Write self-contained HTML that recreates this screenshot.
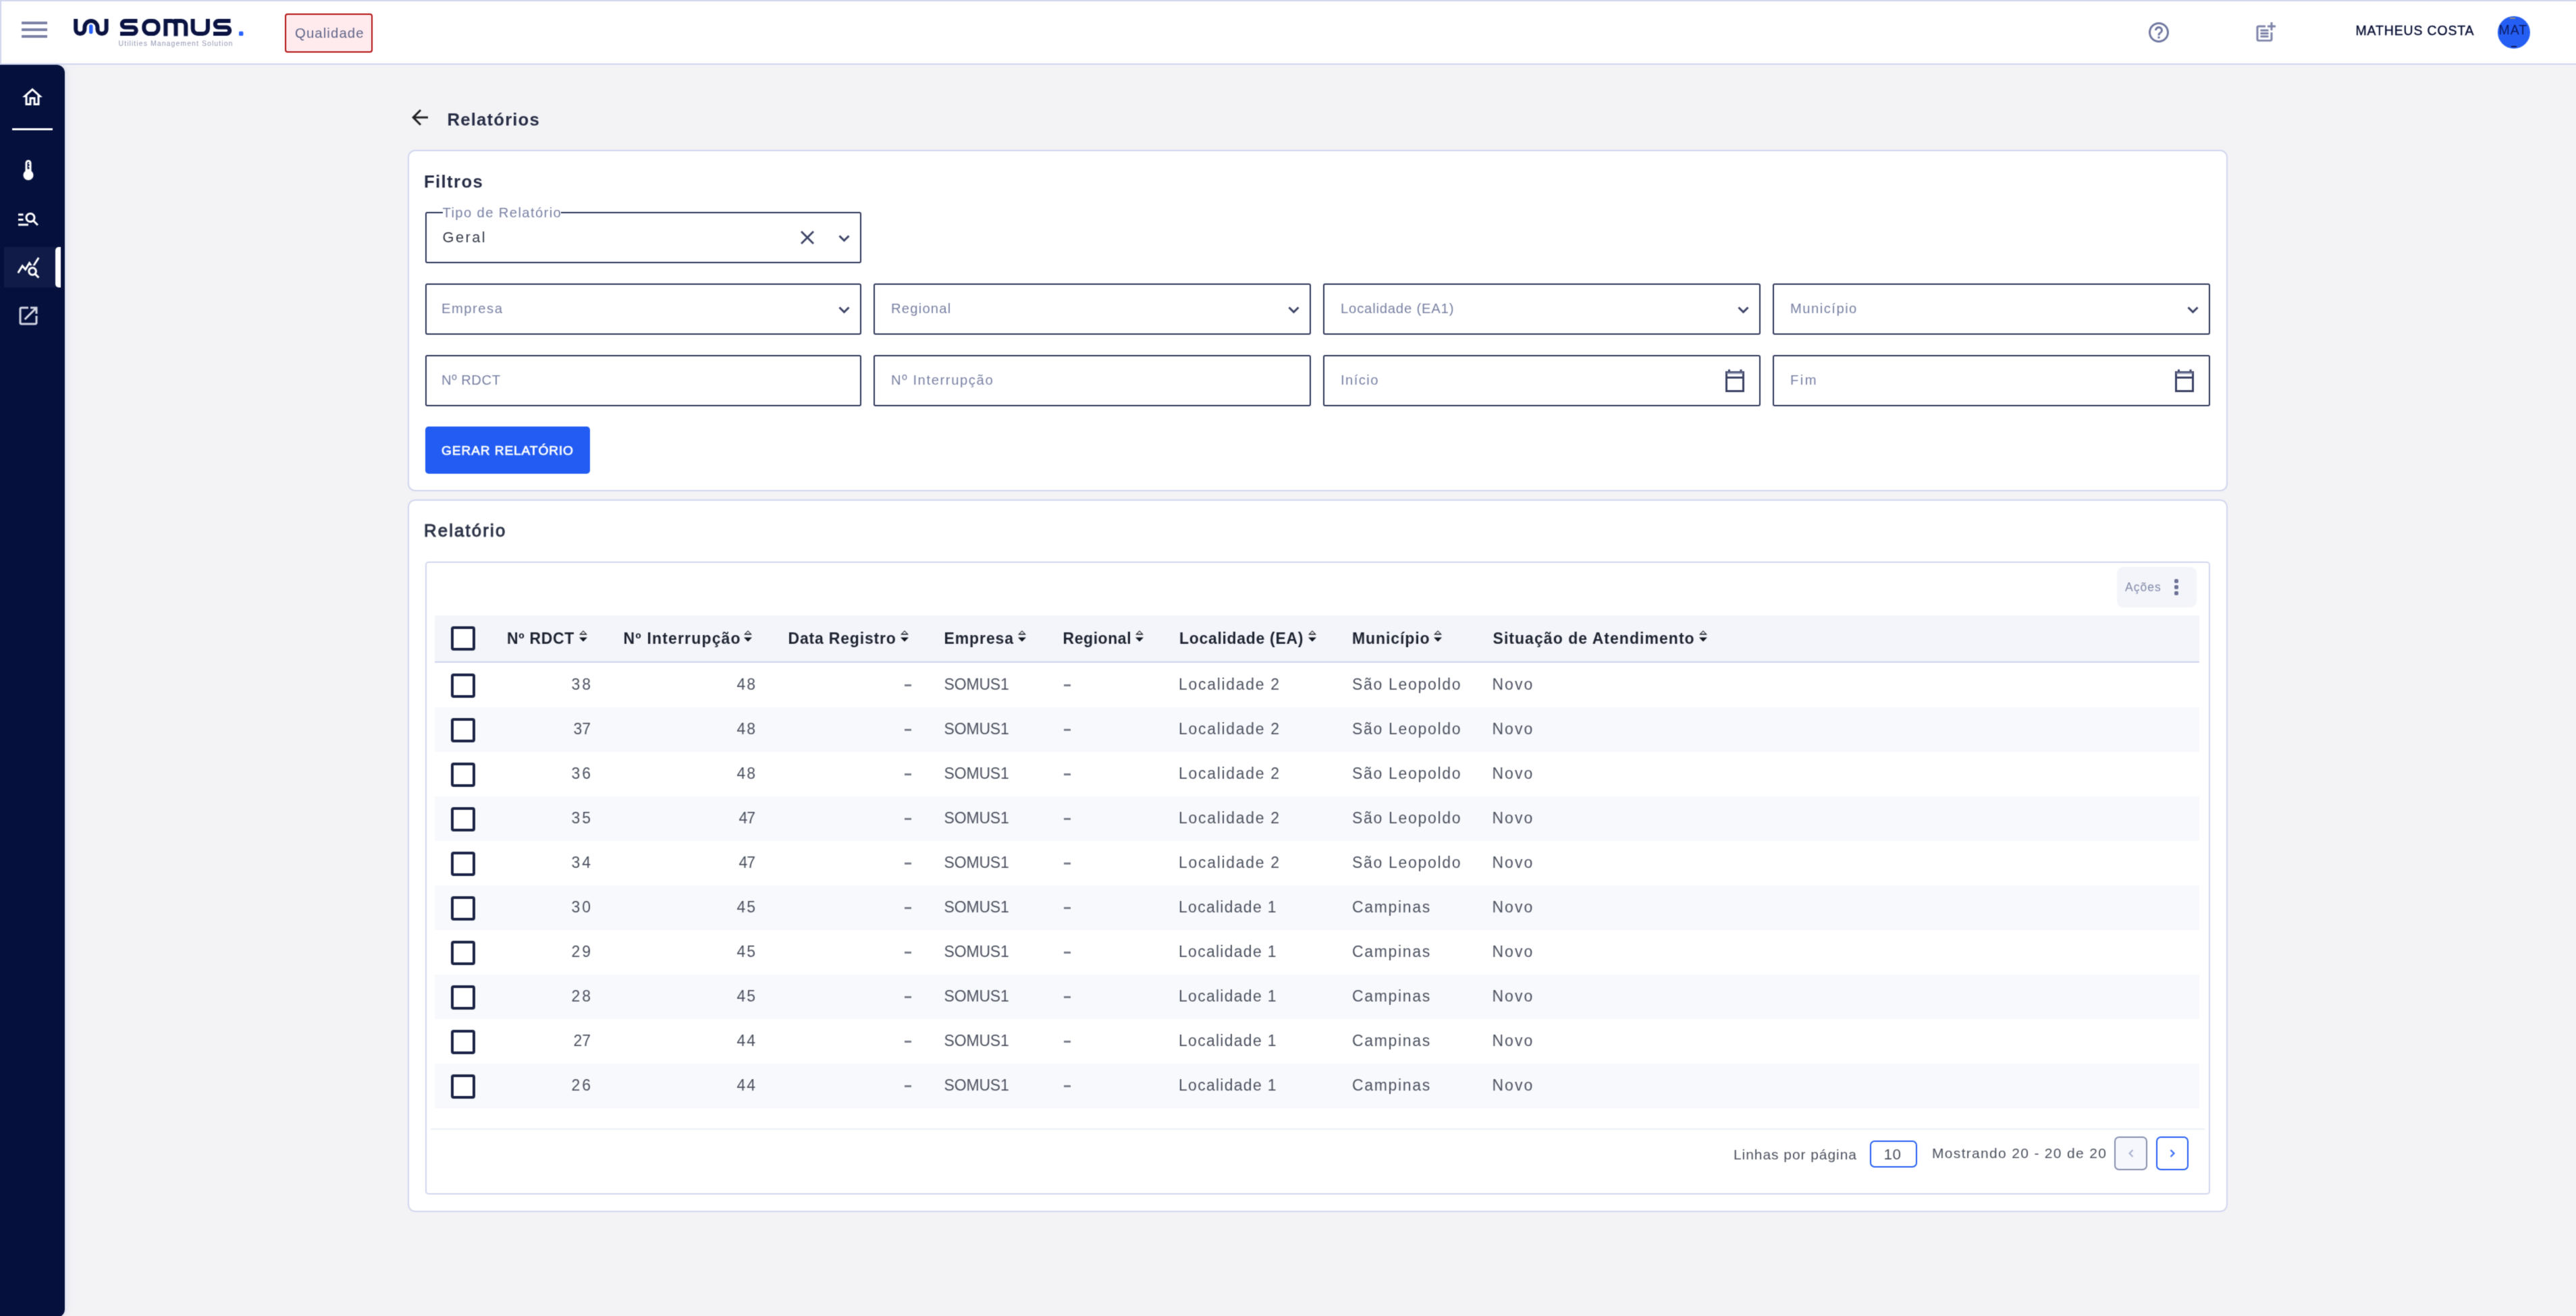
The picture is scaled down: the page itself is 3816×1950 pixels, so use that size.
<!DOCTYPE html>
<html lang="pt-BR">
<head>
<meta charset="utf-8">
<title>Relatórios</title>
<style>
*{box-sizing:border-box;margin:0;padding:0}
html,body{width:3816px;height:1950px;overflow:hidden}
body{position:relative;background:#f3f3f6;font-family:"Liberation Sans",sans-serif;color:#1a2347}
#page{position:absolute;left:0;top:0;width:3816px;height:1950px;overflow:hidden;background:#f3f3f6;filter:url(#soft)}
.abs{position:absolute}
.t{position:absolute;white-space:nowrap}
.topbar{position:absolute;left:0;top:0;width:3816px;height:96px;background:#fff;border-top:2px solid #d1d6ee;border-left:2px solid #d1d6ee;border-bottom:2px solid #d0d5ee}
.side{position:absolute;left:0;top:96px;width:96px;height:1856px;background:#05103d;border-radius:0 12px 12px 0;box-shadow:3px 0 9px rgba(200,205,228,.45)}
.card{position:absolute;background:#fff;border:2px solid #d1d6ee;border-radius:11px}
.inbox{position:absolute;height:76px;border:2px solid #2d3559;border-radius:3px;background:#fff}
.cb{position:absolute;left:668px;width:36px;height:36px;border:4px solid #1b2444;border-radius:4px;background:#fff}
.row{position:absolute;left:644px;width:2614px;height:66px}
.alt{background:#f8f9fc}
svg{position:absolute;overflow:visible}
</style>
</head>
<body>
<svg width="0" height="0" style="position:absolute"><filter id="soft" x="0" y="0" width="100%" height="100%" color-interpolation-filters="sRGB"><feConvolveMatrix order="3" kernelMatrix="1 4 1 4 16 4 1 4 1" divisor="36" edgeMode="duplicate" preserveAlpha="true"/></filter></svg>
<div id="page">
<div class="topbar"></div>
<div class="abs" style="left:32px;top:32px;width:38px;height:4px;background:#7c82a6"></div>
<div class="abs" style="left:32px;top:42px;width:38px;height:4px;background:#7c82a6"></div>
<div class="abs" style="left:32px;top:52px;width:38px;height:4px;background:#7c82a6"></div>
<svg style="left:100px;top:20px" width="280" height="60" viewBox="100 20 280 60">
<g fill="none" stroke="#0a1342" stroke-width="6">
<path d="M112.2 28 V43.5 a6.6 6.6 0 0 0 13.2 0 V40.5 a9.5 9.5 0 0 1 19 0 V43.5 a6.6 6.6 0 0 0 13.2 0 V28"/>
<path d="M203.5 31 H185.5 a4.75 4.75 0 0 0 0 9.5 H197 a4.75 4.75 0 0 1 0 9.5 H178"/>
<rect x="213.3" y="31" width="21.2" height="19" rx="8.5"/>
<path d="M245.4 53.6 V31 H254 a6.5 6.5 0 0 1 6.5 6.5 V53.6 M260.5 37.5 V31 H268.8 a6.5 6.5 0 0 1 6.5 6.5 V53.6"/>
<path d="M285.6 28 V42.5 a7.5 7.5 0 0 0 7.5 7.5 H300.4 a7.5 7.5 0 0 0 7.5 -7.5 V28"/>
<path d="M341.5 31 H323.5 a4.75 4.75 0 0 0 0 9.5 H335.5 a4.75 4.75 0 0 1 0 9.5 H316"/>
</g>
<path d="M134.8 39 V47.5" stroke="#2962ff" stroke-width="5.5" stroke-linecap="round" fill="none"/>
<rect x="354" y="46.5" width="6.4" height="6.6" rx="1.5" fill="#2962ff"/>
</svg>
<div class="abs" style="left:422px;top:20px;width:130px;height:58px;border:2px solid #b30f0f;border-radius:4px;background:#ffebee"></div>
<svg style="left:3180px;top:30px" width="36" height="36" viewBox="0 0 24 24" fill="#7077a0"><path d="M11 18h2v-2h-2v2zm1-16C6.48 2 2 6.48 2 12s4.48 10 10 10 10-4.48 10-10S17.52 2 12 2zm0 18c-4.41 0-8-3.59-8-8s3.590-8 8-8 8 3.590 8 8-3.590 8-8 8zm0-14c-2.21 0-4 1.790-4 4h2c0-1.100.9-2 2-2s2 .9 2 2c0 2-3 1.750-3 5h2c0-2.250 3-2.500 3-5 0-2.210-1.790-4-4-4z"/></svg>
<svg style="left:3338px;top:30px" width="36" height="36" viewBox="0 0 24 24" fill="#7d83a8"><path d="M17 19.220H5V7h7V5H5c-1.100 0-2 .9-2 2v12c0 1.100.9 2 2 2h12c1.100 0 2-.9 2-2v-7h-2v7.220z"/><path d="M19 2h-2v3h-3c.010.010 0 2 0 2h3v2.990c.010.010 2 0 2 0V7h3V5h-3V2zM7 9h8v2H7zM7 12v2h8v-2h-3zM7 15h8v2H7z"/></svg>
<div class="abs" style="left:3700px;top:24px;width:48px;height:48px;border-radius:50%;background:#245ef3"></div>
<div class="abs" style="left:3718px;top:26px;width:8px;height:2px;background:#8d8a7a"></div>
<div class="abs" style="left:3720px;top:68px;width:8px;height:2px;background:#0d1c5c"></div>
<div class="side"></div>
<svg style="left:30px;top:126px" width="36" height="36" viewBox="0 0 24 24" fill="#fff"><path d="M12 5.690l5 4.500V18h-2v-6H9v6H7v-7.810l5-4.500M12 3L2 12h3v8h6v-6h2v6h6v-8h3L12 3z"/></svg>
<div class="abs" style="left:18px;top:189.500px;width:60px;height:3px;background:#fff"></div>
<svg style="left:24px;top:234px" width="36" height="36" viewBox="0 0 24 24" fill="#fff"><path d="M15 13V5c0-1.660-1.340-3-3-3S9 3.340 9 5v8c-1.210.910-2 2.370-2 4 0 2.760 2.240 5 5 5s5-2.240 5-5c0-1.630-.790-3.090-2-4zm-4-8c0-.550.450-1 1-1s1 .450 1 1h-1v1h1v2h-1v1h1v2h-2V5z"/></svg>
<svg style="left:24px;top:306px" width="36" height="36" viewBox="0 0 24 24" fill="#fff"><path d="M7 9H2V7h5v2zm0 3H2v2h5v-2zm13.590 7l-3.830-3.830c-.8.520-1.740.830-2.760.830-2.760 0-5-2.240-5-5s2.240-5 5-5 5 2.240 5 5c0 1.020-.310 1.960-.830 2.750L22 17.590 20.590 19zM17 11c0-1.650-1.350-3-3-3s-3 1.350-3 3 1.350 3 3 3 3-1.350 3-3zM2 19h10v-2H2v2z"/></svg>
<div class="abs" style="left:6px;top:366px;width:76px;height:60px;background:#101b47"></div>
<div class="abs" style="left:82px;top:366px;width:8px;height:60px;background:#fff;border-radius:5px 0 0 5px"></div>
<svg style="left:24px;top:378px" width="36" height="36" viewBox="0 0 24 24" fill="#fff"><path d="M19.880 18.470c.440-.7.7-1.510.7-2.390 0-2.490-2.010-4.500-4.500-4.500s-4.500 2.010-4.500 4.500 2.010 4.500 4.490 4.500c.880 0 1.700-.260 2.390-.7L21.580 23 23 21.580l-3.120-3.110zm-3.800.110c-1.380 0-2.500-1.120-2.500-2.500s1.120-2.500 2.500-2.500 2.500 1.120 2.500 2.500-1.120 2.500-2.500 2.500zm-.360-8.500c-.740.020-1.450.180-2.100.450l-.550-.830-3.800 6.180-3.010-3.520-3.630 5.810L1 17l5-8 3 3.500L13 6l2.720 4.080zm2.590.5c-.640-.280-1.330-.450-2.050-.490L21.380 2 23 3.180l-4.690 7.400z"/></svg>
<svg style="left:24px;top:450px" width="36" height="36" viewBox="0 0 24 24" fill="#d3d6e2"><path d="M19 19H5V5h7V3H5c-1.110 0-2 .9-2 2v14c0 1.100.890 2 2 2h14c1.100 0 2-.9 2-2v-7h-2v7zM14 3v2h3.590l-9.830 9.830 1.410 1.410L19 6.410V10h2V3h-7z"/></svg>
<svg style="left:604px;top:156px" width="36" height="36" viewBox="0 0 24 24" fill="#222"><path d="M20 11H7.830l5.590-5.590L12 4l-8 8 8 8 1.410-1.410L7.830 13H20v-2z"/></svg>
<div class="card" style="left:604px;top:222px;width:2696px;height:506px"></div>
<div class="inbox" style="left:630px;top:314px;width:646px"></div>
<div class="abs" style="left:655.500px;top:312px;width:175px;height:6px;background:#fff"></div>
<svg style="left:1186px;top:342px" width="20" height="20" viewBox="0 0 20 20"><path d="M1 1L19 19M19 1L1 19" fill="none" stroke="#3b4264" stroke-width="2.800"/></svg>
<svg style="left:1241.5px;top:347.5px" width="17" height="11" viewBox="0 0 17 11"><path d="M1.500 1.500 L8.500 8.500 L15.500 1.500" fill="none" stroke="#3b4264" stroke-width="3"/></svg>
<div class="inbox" style="left:630px;top:420px;width:646px"></div>
<div class="inbox" style="left:630px;top:526px;width:646px"></div>
<svg style="left:1241.5px;top:453.5px" width="17" height="11" viewBox="0 0 17 11"><path d="M1.500 1.500 L8.500 8.500 L15.500 1.500" fill="none" stroke="#3b4264" stroke-width="3"/></svg>
<div class="inbox" style="left:1294px;top:420px;width:648px"></div>
<div class="inbox" style="left:1294px;top:526px;width:648px"></div>
<svg style="left:1907.5px;top:453.5px" width="17" height="11" viewBox="0 0 17 11"><path d="M1.500 1.500 L8.500 8.500 L15.500 1.500" fill="none" stroke="#3b4264" stroke-width="3"/></svg>
<div class="inbox" style="left:1960px;top:420px;width:648px"></div>
<div class="inbox" style="left:1960px;top:526px;width:648px"></div>
<svg style="left:2573.5px;top:453.5px" width="17" height="11" viewBox="0 0 17 11"><path d="M1.500 1.500 L8.500 8.500 L15.500 1.500" fill="none" stroke="#3b4264" stroke-width="3"/></svg>
<svg style="left:2555px;top:547px" width="30" height="34" viewBox="0 0 30 34"><g fill="none" stroke="#3b4264" stroke-width="3"><rect x="2.500" y="4.500" width="25" height="28"/><path d="M2.500 12.500H27.500"/><path d="M6.500 0.500V5M24 0.500V5"/></g><rect x="2.500" y="3.500" width="25" height="4" fill="#7f86a5" opacity=".55"/></svg>
<div class="inbox" style="left:2626px;top:420px;width:648px"></div>
<div class="inbox" style="left:2626px;top:526px;width:648px"></div>
<svg style="left:3239.5px;top:453.5px" width="17" height="11" viewBox="0 0 17 11"><path d="M1.500 1.500 L8.500 8.500 L15.500 1.500" fill="none" stroke="#3b4264" stroke-width="3"/></svg>
<svg style="left:3221px;top:547px" width="30" height="34" viewBox="0 0 30 34"><g fill="none" stroke="#3b4264" stroke-width="3"><rect x="2.500" y="4.500" width="25" height="28"/><path d="M2.500 12.500H27.500"/><path d="M6.500 0.500V5M24 0.500V5"/></g><rect x="2.500" y="3.500" width="25" height="4" fill="#7f86a5" opacity=".55"/></svg>
<div class="abs" style="left:630px;top:632px;width:244px;height:70px;background:#225cf2;border-radius:5px"></div>
<div class="card" style="left:604px;top:740px;width:2696px;height:1056px"></div>
<div class="abs" style="left:630px;top:832px;width:2644px;height:938px;border:2px solid #d1d6ee;border-radius:5px;background:#fff"></div>
<div class="abs" style="left:3136px;top:840px;width:118px;height:60px;background:#f4f5fa;border-radius:9px"></div>
<div class="abs" style="left:3221px;top:858px;width:6px;height:6px;border-radius:2px;background:#6c7297"></div>
<div class="abs" style="left:3221px;top:867px;width:6px;height:6px;border-radius:2px;background:#6c7297"></div>
<div class="abs" style="left:3221px;top:876px;width:6px;height:6px;border-radius:2px;background:#6c7297"></div>
<div class="row" style="top:912px;height:68px;background:#f4f5fa"></div>
<div class="abs" style="left:644px;top:980px;width:2614px;height:2px;background:#ced3f0"></div>
<div class="cb" style="top:928px"></div>
<svg style="left:858px;top:933.500px" width="12" height="17" viewBox="0 0 12 17"><path d="M0 6.500H12L6 0.300Z M2.800 5H9.200L6 1.800Z" fill="#10161f" fill-rule="evenodd"/><path d="M0 10.500H12L6 16.700Z" fill="#10161f"/></svg>
<svg style="left:1102px;top:933.500px" width="12" height="17" viewBox="0 0 12 17"><path d="M0 6.500H12L6 0.300Z M2.800 5H9.200L6 1.800Z" fill="#10161f" fill-rule="evenodd"/><path d="M0 10.500H12L6 16.700Z" fill="#10161f"/></svg>
<svg style="left:1334px;top:933.500px" width="12" height="17" viewBox="0 0 12 17"><path d="M0 6.500H12L6 0.300Z M2.800 5H9.200L6 1.800Z" fill="#10161f" fill-rule="evenodd"/><path d="M0 10.500H12L6 16.700Z" fill="#10161f"/></svg>
<svg style="left:1508px;top:933.500px" width="12" height="17" viewBox="0 0 12 17"><path d="M0 6.500H12L6 0.300Z M2.800 5H9.200L6 1.800Z" fill="#10161f" fill-rule="evenodd"/><path d="M0 10.500H12L6 16.700Z" fill="#10161f"/></svg>
<svg style="left:1682px;top:933.500px" width="12" height="17" viewBox="0 0 12 17"><path d="M0 6.500H12L6 0.300Z M2.800 5H9.200L6 1.800Z" fill="#10161f" fill-rule="evenodd"/><path d="M0 10.500H12L6 16.700Z" fill="#10161f"/></svg>
<svg style="left:1937.5px;top:933.500px" width="12" height="17" viewBox="0 0 12 17"><path d="M0 6.500H12L6 0.300Z M2.800 5H9.200L6 1.800Z" fill="#10161f" fill-rule="evenodd"/><path d="M0 10.500H12L6 16.700Z" fill="#10161f"/></svg>
<svg style="left:2124px;top:933.500px" width="12" height="17" viewBox="0 0 12 17"><path d="M0 6.500H12L6 0.300Z M2.800 5H9.200L6 1.800Z" fill="#10161f" fill-rule="evenodd"/><path d="M0 10.500H12L6 16.700Z" fill="#10161f"/></svg>
<svg style="left:2516.5px;top:933.500px" width="12" height="17" viewBox="0 0 12 17"><path d="M0 6.500H12L6 0.300Z M2.800 5H9.200L6 1.800Z" fill="#10161f" fill-rule="evenodd"/><path d="M0 10.500H12L6 16.700Z" fill="#10161f"/></svg>
<div class="row" style="top:982px"></div>
<div class="cb" style="top:998px"></div>
<div class="abs" style="left:1340px;top:1014px;width:10px;height:3px;background:#7c818d"></div>
<div class="abs" style="left:1576px;top:1014px;width:10px;height:3px;background:#7c818d"></div>
<div class="row alt" style="top:1048px"></div>
<div class="cb" style="top:1064px"></div>
<div class="abs" style="left:1340px;top:1080px;width:10px;height:3px;background:#7c818d"></div>
<div class="abs" style="left:1576px;top:1080px;width:10px;height:3px;background:#7c818d"></div>
<div class="row" style="top:1114px"></div>
<div class="cb" style="top:1130px"></div>
<div class="abs" style="left:1340px;top:1146px;width:10px;height:3px;background:#7c818d"></div>
<div class="abs" style="left:1576px;top:1146px;width:10px;height:3px;background:#7c818d"></div>
<div class="row alt" style="top:1180px"></div>
<div class="cb" style="top:1196px"></div>
<div class="abs" style="left:1340px;top:1212px;width:10px;height:3px;background:#7c818d"></div>
<div class="abs" style="left:1576px;top:1212px;width:10px;height:3px;background:#7c818d"></div>
<div class="row" style="top:1246px"></div>
<div class="cb" style="top:1262px"></div>
<div class="abs" style="left:1340px;top:1278px;width:10px;height:3px;background:#7c818d"></div>
<div class="abs" style="left:1576px;top:1278px;width:10px;height:3px;background:#7c818d"></div>
<div class="row alt" style="top:1312px"></div>
<div class="cb" style="top:1328px"></div>
<div class="abs" style="left:1340px;top:1344px;width:10px;height:3px;background:#7c818d"></div>
<div class="abs" style="left:1576px;top:1344px;width:10px;height:3px;background:#7c818d"></div>
<div class="row" style="top:1378px"></div>
<div class="cb" style="top:1394px"></div>
<div class="abs" style="left:1340px;top:1410px;width:10px;height:3px;background:#7c818d"></div>
<div class="abs" style="left:1576px;top:1410px;width:10px;height:3px;background:#7c818d"></div>
<div class="row alt" style="top:1444px"></div>
<div class="cb" style="top:1460px"></div>
<div class="abs" style="left:1340px;top:1476px;width:10px;height:3px;background:#7c818d"></div>
<div class="abs" style="left:1576px;top:1476px;width:10px;height:3px;background:#7c818d"></div>
<div class="row" style="top:1510px"></div>
<div class="cb" style="top:1526px"></div>
<div class="abs" style="left:1340px;top:1542px;width:10px;height:3px;background:#7c818d"></div>
<div class="abs" style="left:1576px;top:1542px;width:10px;height:3px;background:#7c818d"></div>
<div class="row alt" style="top:1576px"></div>
<div class="cb" style="top:1592px"></div>
<div class="abs" style="left:1340px;top:1608px;width:10px;height:3px;background:#7c818d"></div>
<div class="abs" style="left:1576px;top:1608px;width:10px;height:3px;background:#7c818d"></div>
<div class="abs" style="left:638px;top:1672px;width:2628px;height:2px;background:#eceef7"></div>
<div class="abs" style="left:2770px;top:1690px;width:70px;height:40px;border:2.500px solid #225cf2;border-radius:7px;background:#fff"></div>
<div class="abs" style="left:3132px;top:1684px;width:49px;height:50px;border:2.500px solid #878dab;border-radius:7px;background:#f6f7fd"></div>
<div class="abs" style="left:3194px;top:1684px;width:48px;height:50px;border:2.500px solid #225cf2;border-radius:7px;background:#fff"></div>
<svg style="left:3153px;top:1703px" width="8" height="12" viewBox="0 0 8 12"><path d="M6.500 1L1.500 6L6.500 11" fill="none" stroke="#a6adcc" stroke-width="2"/></svg>
<svg style="left:3214px;top:1703px" width="8" height="12" viewBox="0 0 8 12"><path d="M1.500 1L6.500 6L1.500 11" fill="none" stroke="#3b6df5" stroke-width="2.300"/></svg>
<div class="t " style="left:175.50px;top:59.08px;font-size:10.5px;line-height:10.5px;font-weight:400;color:#9195b0;letter-spacing:1.071px;">Utilities Management Solution</div>
<div class="t " style="left:437.00px;top:38.55px;font-size:20.3px;line-height:20.3px;font-weight:400;color:#5e6488;letter-spacing:1.125px;">Qualidade</div>
<div class="t " style="left:3489.50px;top:36.42px;font-size:19.5px;line-height:19.5px;font-weight:400;color:#030b30;letter-spacing:0.833px;-webkit-text-stroke:0.35px #030b30">MATHEUS COSTA</div>
<div class="t " style="left:3701.50px;top:35.42px;font-size:19.5px;line-height:19.5px;font-weight:400;color:#0b1a60;letter-spacing:1.000px;">MAT</div>
<div class="t " style="left:662.50px;top:165.07px;font-size:25.8px;line-height:25.8px;font-weight:700;color:#272d45;letter-spacing:1.133px;">Relatórios</div>
<div class="t " style="left:628.00px;top:256.57px;font-size:25.8px;line-height:25.8px;font-weight:700;color:#272d45;letter-spacing:1.333px;">Filtros</div>
<div class="t " style="left:655.50px;top:305.44px;font-size:20.3px;line-height:20.3px;font-weight:400;color:#7880a2;letter-spacing:1.350px;">Tipo de Relatório</div>
<div class="t " style="left:655.50px;top:340.87px;font-size:21.8px;line-height:21.8px;font-weight:400;color:#343a48;letter-spacing:2.450px;">Geral</div>
<div class="t " style="left:654.00px;top:447.05px;font-size:20.3px;line-height:20.3px;font-weight:400;color:#7880a2;letter-spacing:1.467px;">Empresa</div>
<div class="t " style="left:654.00px;top:552.75px;font-size:20.3px;line-height:20.3px;font-weight:400;color:#7880a2;letter-spacing:0.500px;">Nº RDCT</div>
<div class="t " style="left:1320.00px;top:447.05px;font-size:20.3px;line-height:20.3px;font-weight:400;color:#7880a2;letter-spacing:1.171px;">Regional</div>
<div class="t " style="left:1320.00px;top:552.75px;font-size:20.3px;line-height:20.3px;font-weight:400;color:#7880a2;letter-spacing:1.569px;">Nº Interrupção</div>
<div class="t " style="left:1986.00px;top:447.05px;font-size:20.3px;line-height:20.3px;font-weight:400;color:#7880a2;letter-spacing:0.787px;">Localidade (EA1)</div>
<div class="t " style="left:1986.00px;top:552.75px;font-size:20.3px;line-height:20.3px;font-weight:400;color:#7880a2;letter-spacing:1.400px;">Início</div>
<div class="t " style="left:2652.00px;top:447.05px;font-size:20.3px;line-height:20.3px;font-weight:400;color:#7880a2;letter-spacing:1.450px;">Município</div>
<div class="t " style="left:2652.00px;top:552.75px;font-size:20.3px;line-height:20.3px;font-weight:400;color:#7880a2;letter-spacing:2.400px;">Fim</div>
<div class="t " style="left:654.00px;top:657.68px;font-size:19.2px;line-height:19.2px;font-weight:400;color:#fff;letter-spacing:0.857px;-webkit-text-stroke:0.7px #fff">GERAR RELATÓRIO</div>
<div class="t " style="left:628.00px;top:774.07px;font-size:25.8px;line-height:25.8px;font-weight:400;color:#2d3347;letter-spacing:2.125px;-webkit-text-stroke:1px #2d3347">Relatório</div>
<div class="t " style="left:3148.00px;top:862.12px;font-size:17.5px;line-height:17.5px;font-weight:400;color:#8088a8;letter-spacing:1.000px;">Ações</div>
<div class="t " style="left:751.00px;top:935.45px;font-size:23px;line-height:23px;font-weight:700;color:#1d2331;letter-spacing:0.667px;">Nº RDCT</div>
<div class="t " style="left:923.50px;top:935.45px;font-size:23px;line-height:23px;font-weight:700;color:#1d2331;letter-spacing:1.169px;">Nº Interrupção</div>
<div class="t " style="left:1167.50px;top:935.45px;font-size:23px;line-height:23px;font-weight:700;color:#1d2331;letter-spacing:0.817px;">Data Registro</div>
<div class="t " style="left:1398.50px;top:935.45px;font-size:23px;line-height:23px;font-weight:700;color:#1d2331;letter-spacing:0.900px;">Empresa</div>
<div class="t " style="left:1574.50px;top:935.45px;font-size:23px;line-height:23px;font-weight:700;color:#1d2331;letter-spacing:0.571px;">Regional</div>
<div class="t " style="left:1747.00px;top:935.45px;font-size:23px;line-height:23px;font-weight:700;color:#1d2331;letter-spacing:0.686px;">Localidade (EA)</div>
<div class="t " style="left:2003.00px;top:935.45px;font-size:23px;line-height:23px;font-weight:700;color:#1d2331;letter-spacing:0.900px;">Município</div>
<div class="t " style="left:2211.50px;top:935.45px;font-size:23px;line-height:23px;font-weight:700;color:#1d2331;letter-spacing:1.045px;">Situação de Atendimento</div>
<div class="t " style="left:846.50px;top:1003.45px;font-size:23px;line-height:23px;font-weight:400;color:#4b515f;letter-spacing:3.000px;">38</div>
<div class="t " style="left:1091.50px;top:1003.45px;font-size:23px;line-height:23px;font-weight:400;color:#4b515f;letter-spacing:2.000px;">48</div>
<div class="t " style="left:1398.50px;top:1003.45px;font-size:23px;line-height:23px;font-weight:400;color:#4b515f;letter-spacing:-0.160px;">SOMUS1</div>
<div class="t " style="left:1746.00px;top:1003.45px;font-size:23px;line-height:23px;font-weight:400;color:#4b515f;letter-spacing:1.691px;">Localidade 2</div>
<div class="t " style="left:2003.00px;top:1003.45px;font-size:23px;line-height:23px;font-weight:400;color:#4b515f;letter-spacing:1.691px;">São Leopoldo</div>
<div class="t " style="left:2210.50px;top:1003.45px;font-size:23px;line-height:23px;font-weight:400;color:#4b515f;letter-spacing:2.000px;">Novo</div>
<div class="t " style="left:849.50px;top:1069.45px;font-size:23px;line-height:23px;font-weight:400;color:#4b515f;letter-spacing:0.000px;">37</div>
<div class="t " style="left:1091.50px;top:1069.45px;font-size:23px;line-height:23px;font-weight:400;color:#4b515f;letter-spacing:2.000px;">48</div>
<div class="t " style="left:1398.50px;top:1069.45px;font-size:23px;line-height:23px;font-weight:400;color:#4b515f;letter-spacing:-0.160px;">SOMUS1</div>
<div class="t " style="left:1746.00px;top:1069.45px;font-size:23px;line-height:23px;font-weight:400;color:#4b515f;letter-spacing:1.691px;">Localidade 2</div>
<div class="t " style="left:2003.00px;top:1069.45px;font-size:23px;line-height:23px;font-weight:400;color:#4b515f;letter-spacing:1.691px;">São Leopoldo</div>
<div class="t " style="left:2210.50px;top:1069.45px;font-size:23px;line-height:23px;font-weight:400;color:#4b515f;letter-spacing:2.000px;">Novo</div>
<div class="t " style="left:846.50px;top:1135.45px;font-size:23px;line-height:23px;font-weight:400;color:#4b515f;letter-spacing:3.000px;">36</div>
<div class="t " style="left:1091.50px;top:1135.45px;font-size:23px;line-height:23px;font-weight:400;color:#4b515f;letter-spacing:2.000px;">48</div>
<div class="t " style="left:1398.50px;top:1135.45px;font-size:23px;line-height:23px;font-weight:400;color:#4b515f;letter-spacing:-0.160px;">SOMUS1</div>
<div class="t " style="left:1746.00px;top:1135.45px;font-size:23px;line-height:23px;font-weight:400;color:#4b515f;letter-spacing:1.691px;">Localidade 2</div>
<div class="t " style="left:2003.00px;top:1135.45px;font-size:23px;line-height:23px;font-weight:400;color:#4b515f;letter-spacing:1.691px;">São Leopoldo</div>
<div class="t " style="left:2210.50px;top:1135.45px;font-size:23px;line-height:23px;font-weight:400;color:#4b515f;letter-spacing:2.000px;">Novo</div>
<div class="t " style="left:846.50px;top:1201.45px;font-size:23px;line-height:23px;font-weight:400;color:#4b515f;letter-spacing:3.000px;">35</div>
<div class="t " style="left:1094.50px;top:1201.45px;font-size:23px;line-height:23px;font-weight:400;color:#4b515f;letter-spacing:-1.000px;">47</div>
<div class="t " style="left:1398.50px;top:1201.45px;font-size:23px;line-height:23px;font-weight:400;color:#4b515f;letter-spacing:-0.160px;">SOMUS1</div>
<div class="t " style="left:1746.00px;top:1201.45px;font-size:23px;line-height:23px;font-weight:400;color:#4b515f;letter-spacing:1.691px;">Localidade 2</div>
<div class="t " style="left:2003.00px;top:1201.45px;font-size:23px;line-height:23px;font-weight:400;color:#4b515f;letter-spacing:1.691px;">São Leopoldo</div>
<div class="t " style="left:2210.50px;top:1201.45px;font-size:23px;line-height:23px;font-weight:400;color:#4b515f;letter-spacing:2.000px;">Novo</div>
<div class="t " style="left:846.50px;top:1267.45px;font-size:23px;line-height:23px;font-weight:400;color:#4b515f;letter-spacing:3.000px;">34</div>
<div class="t " style="left:1094.50px;top:1267.45px;font-size:23px;line-height:23px;font-weight:400;color:#4b515f;letter-spacing:-1.000px;">47</div>
<div class="t " style="left:1398.50px;top:1267.45px;font-size:23px;line-height:23px;font-weight:400;color:#4b515f;letter-spacing:-0.160px;">SOMUS1</div>
<div class="t " style="left:1746.00px;top:1267.45px;font-size:23px;line-height:23px;font-weight:400;color:#4b515f;letter-spacing:1.691px;">Localidade 2</div>
<div class="t " style="left:2003.00px;top:1267.45px;font-size:23px;line-height:23px;font-weight:400;color:#4b515f;letter-spacing:1.691px;">São Leopoldo</div>
<div class="t " style="left:2210.50px;top:1267.45px;font-size:23px;line-height:23px;font-weight:400;color:#4b515f;letter-spacing:2.000px;">Novo</div>
<div class="t " style="left:846.50px;top:1333.45px;font-size:23px;line-height:23px;font-weight:400;color:#4b515f;letter-spacing:3.000px;">30</div>
<div class="t " style="left:1091.50px;top:1333.45px;font-size:23px;line-height:23px;font-weight:400;color:#4b515f;letter-spacing:2.000px;">45</div>
<div class="t " style="left:1398.50px;top:1333.45px;font-size:23px;line-height:23px;font-weight:400;color:#4b515f;letter-spacing:-0.160px;">SOMUS1</div>
<div class="t " style="left:1746.00px;top:1333.45px;font-size:23px;line-height:23px;font-weight:400;color:#4b515f;letter-spacing:1.273px;">Localidade 1</div>
<div class="t " style="left:2003.00px;top:1333.45px;font-size:23px;line-height:23px;font-weight:400;color:#4b515f;letter-spacing:1.657px;">Campinas</div>
<div class="t " style="left:2210.50px;top:1333.45px;font-size:23px;line-height:23px;font-weight:400;color:#4b515f;letter-spacing:2.000px;">Novo</div>
<div class="t " style="left:846.50px;top:1399.45px;font-size:23px;line-height:23px;font-weight:400;color:#4b515f;letter-spacing:3.000px;">29</div>
<div class="t " style="left:1091.50px;top:1399.45px;font-size:23px;line-height:23px;font-weight:400;color:#4b515f;letter-spacing:2.000px;">45</div>
<div class="t " style="left:1398.50px;top:1399.45px;font-size:23px;line-height:23px;font-weight:400;color:#4b515f;letter-spacing:-0.160px;">SOMUS1</div>
<div class="t " style="left:1746.00px;top:1399.45px;font-size:23px;line-height:23px;font-weight:400;color:#4b515f;letter-spacing:1.273px;">Localidade 1</div>
<div class="t " style="left:2003.00px;top:1399.45px;font-size:23px;line-height:23px;font-weight:400;color:#4b515f;letter-spacing:1.657px;">Campinas</div>
<div class="t " style="left:2210.50px;top:1399.45px;font-size:23px;line-height:23px;font-weight:400;color:#4b515f;letter-spacing:2.000px;">Novo</div>
<div class="t " style="left:846.50px;top:1465.45px;font-size:23px;line-height:23px;font-weight:400;color:#4b515f;letter-spacing:3.000px;">28</div>
<div class="t " style="left:1091.50px;top:1465.45px;font-size:23px;line-height:23px;font-weight:400;color:#4b515f;letter-spacing:2.000px;">45</div>
<div class="t " style="left:1398.50px;top:1465.45px;font-size:23px;line-height:23px;font-weight:400;color:#4b515f;letter-spacing:-0.160px;">SOMUS1</div>
<div class="t " style="left:1746.00px;top:1465.45px;font-size:23px;line-height:23px;font-weight:400;color:#4b515f;letter-spacing:1.273px;">Localidade 1</div>
<div class="t " style="left:2003.00px;top:1465.45px;font-size:23px;line-height:23px;font-weight:400;color:#4b515f;letter-spacing:1.657px;">Campinas</div>
<div class="t " style="left:2210.50px;top:1465.45px;font-size:23px;line-height:23px;font-weight:400;color:#4b515f;letter-spacing:2.000px;">Novo</div>
<div class="t " style="left:849.50px;top:1531.45px;font-size:23px;line-height:23px;font-weight:400;color:#4b515f;letter-spacing:0.000px;">27</div>
<div class="t " style="left:1091.50px;top:1531.45px;font-size:23px;line-height:23px;font-weight:400;color:#4b515f;letter-spacing:2.000px;">44</div>
<div class="t " style="left:1398.50px;top:1531.45px;font-size:23px;line-height:23px;font-weight:400;color:#4b515f;letter-spacing:-0.160px;">SOMUS1</div>
<div class="t " style="left:1746.00px;top:1531.45px;font-size:23px;line-height:23px;font-weight:400;color:#4b515f;letter-spacing:1.273px;">Localidade 1</div>
<div class="t " style="left:2003.00px;top:1531.45px;font-size:23px;line-height:23px;font-weight:400;color:#4b515f;letter-spacing:1.657px;">Campinas</div>
<div class="t " style="left:2210.50px;top:1531.45px;font-size:23px;line-height:23px;font-weight:400;color:#4b515f;letter-spacing:2.000px;">Novo</div>
<div class="t " style="left:846.50px;top:1597.45px;font-size:23px;line-height:23px;font-weight:400;color:#4b515f;letter-spacing:3.000px;">26</div>
<div class="t " style="left:1091.50px;top:1597.45px;font-size:23px;line-height:23px;font-weight:400;color:#4b515f;letter-spacing:2.000px;">44</div>
<div class="t " style="left:1398.50px;top:1597.45px;font-size:23px;line-height:23px;font-weight:400;color:#4b515f;letter-spacing:-0.160px;">SOMUS1</div>
<div class="t " style="left:1746.00px;top:1597.45px;font-size:23px;line-height:23px;font-weight:400;color:#4b515f;letter-spacing:1.273px;">Localidade 1</div>
<div class="t " style="left:2003.00px;top:1597.45px;font-size:23px;line-height:23px;font-weight:400;color:#4b515f;letter-spacing:1.657px;">Campinas</div>
<div class="t " style="left:2210.50px;top:1597.45px;font-size:23px;line-height:23px;font-weight:400;color:#4b515f;letter-spacing:2.000px;">Novo</div>
<div class="t " style="left:2568.00px;top:1699.95px;font-size:21px;line-height:21px;font-weight:400;color:#4a505d;letter-spacing:0.938px;">Linhas por página</div>
<div class="t " style="left:2790.50px;top:1699.67px;font-size:22.5px;line-height:22.5px;font-weight:400;color:#4a505d;letter-spacing:0.400px;">10</div>
<div class="t " style="left:2862.00px;top:1697.65px;font-size:21px;line-height:21px;font-weight:400;color:#4a505d;letter-spacing:1.318px;">Mostrando 20 - 20 de 20</div>
</div>
</body></html>
